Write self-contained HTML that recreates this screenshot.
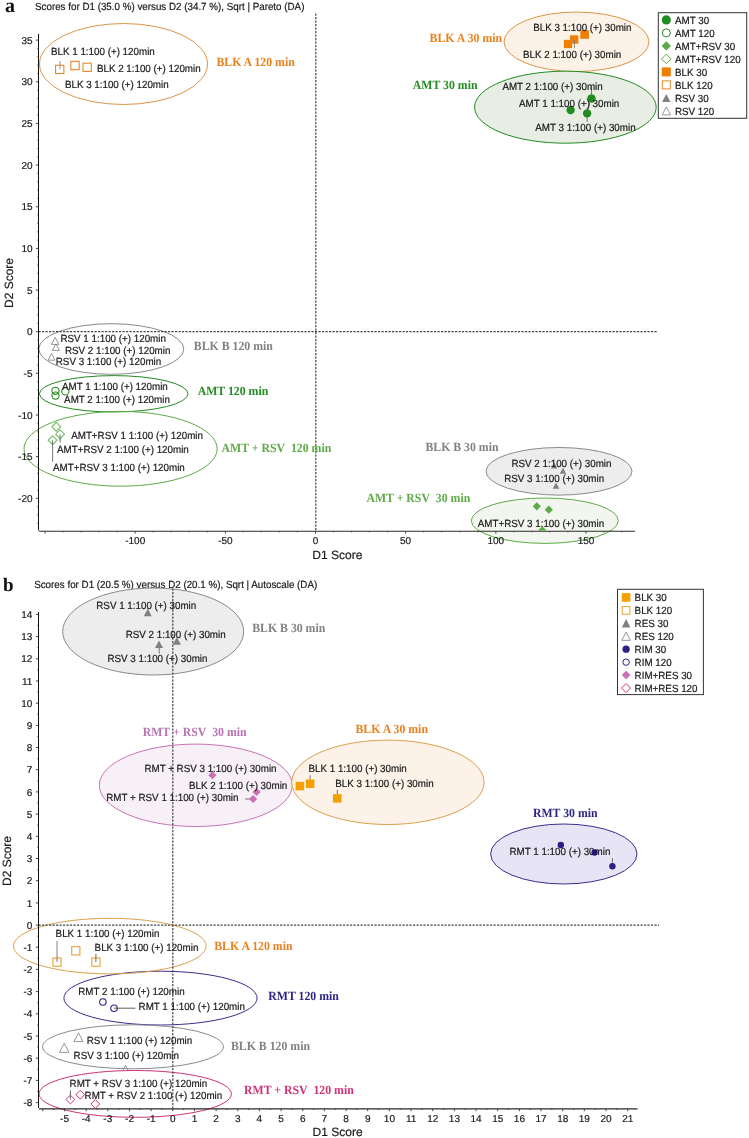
<!DOCTYPE html><html><head><meta charset="utf-8"><title>PCA score plots</title><style>html,body{margin:0;padding:0;background:#fff;} svg{display:block;text-rendering:geometricPrecision;will-change:transform;}</style></head><body>
<svg width="749" height="1138" viewBox="0 0 749 1138">
<rect width="749" height="1138" fill="#ffffff"/>
<text x="5.0" y="11.6" font-family='"Liberation Serif", serif' font-size="20" font-weight="bold" fill="#111" text-anchor="start" >a</text>
<text x="35.0" y="9.8" font-family='"Liberation Sans", sans-serif' font-size="10.4" font-weight="normal" fill="#1a1a1a" text-anchor="start" textLength="269.40" lengthAdjust="spacingAndGlyphs" stroke="#1a1a1a" stroke-width="0.2" >Scores for D1 (35.0 %) versus D2 (34.7 %), Sqrt | Pareto (DA)</text>
<ellipse cx="123.5" cy="64.0" rx="84.0" ry="40.5" fill="none" stroke="#dc9548" stroke-width="1.0"/>
<ellipse cx="576.5" cy="41.8" rx="72.5" ry="29.8" fill="#fcf2e7" stroke="#dc9548" stroke-width="1.0"/>
<ellipse cx="565.4" cy="107.2" rx="90.8" ry="36.0" fill="#e8eee3" stroke="#228b22" stroke-width="1.0"/>
<ellipse cx="111.3" cy="349.0" rx="72.5" ry="25.3" fill="none" stroke="#8a8a8a" stroke-width="1.0"/>
<ellipse cx="113.7" cy="393.8" rx="74.3" ry="18.2" fill="none" stroke="#228b22" stroke-width="1.0"/>
<ellipse cx="120.6" cy="448.8" rx="96.6" ry="37.4" fill="none" stroke="#5eaa48" stroke-width="1.0"/>
<ellipse cx="559.0" cy="471.3" rx="73.0" ry="23.8" fill="#ededed" stroke="#8a8a8a" stroke-width="1.0"/>
<ellipse cx="544.8" cy="520.7" rx="73.5" ry="22.7" fill="#f2f6ef" stroke="#5eaa48" stroke-width="1.0"/>
<line x1="315.8" y1="13.5" x2="315.8" y2="531.2" stroke="#444444" stroke-width="1.2" stroke-dasharray="2.2 1.3"/>
<line x1="38.5" y1="331.7" x2="658.0" y2="331.7" stroke="#444444" stroke-width="1.2" stroke-dasharray="2.2 1.3"/>
<line x1="38.5" y1="34.0" x2="38.5" y2="530.4" stroke="#111" stroke-width="1.0" />
<line x1="39.0" y1="531.2" x2="635.0" y2="531.2" stroke="#2a2a2a" stroke-width="1.15" />
<line x1="37.3" y1="523.3" x2="38.5" y2="523.3" stroke="#333333" stroke-width="0.8" />
<line x1="37.3" y1="515.0" x2="38.5" y2="515.0" stroke="#333333" stroke-width="0.8" />
<line x1="37.3" y1="506.6" x2="38.5" y2="506.6" stroke="#333333" stroke-width="0.8" />
<line x1="35.9" y1="498.3" x2="38.5" y2="498.3" stroke="#333333" stroke-width="0.9" />
<text x="32.5" y="501.9" font-family='"Liberation Sans", sans-serif' font-size="10" font-weight="normal" fill="#1a1a1a" text-anchor="end" stroke="#1a1a1a" stroke-width="0.2" >-20</text>
<line x1="37.3" y1="490.0" x2="38.5" y2="490.0" stroke="#333333" stroke-width="0.8" />
<line x1="37.3" y1="481.6" x2="38.5" y2="481.6" stroke="#333333" stroke-width="0.8" />
<line x1="37.3" y1="473.3" x2="38.5" y2="473.3" stroke="#333333" stroke-width="0.8" />
<line x1="37.3" y1="465.0" x2="38.5" y2="465.0" stroke="#333333" stroke-width="0.8" />
<line x1="35.9" y1="456.6" x2="38.5" y2="456.6" stroke="#333333" stroke-width="0.9" />
<text x="32.5" y="460.2" font-family='"Liberation Sans", sans-serif' font-size="10" font-weight="normal" fill="#1a1a1a" text-anchor="end" stroke="#1a1a1a" stroke-width="0.2" >-15</text>
<line x1="37.3" y1="448.3" x2="38.5" y2="448.3" stroke="#333333" stroke-width="0.8" />
<line x1="37.3" y1="440.0" x2="38.5" y2="440.0" stroke="#333333" stroke-width="0.8" />
<line x1="37.3" y1="431.7" x2="38.5" y2="431.7" stroke="#333333" stroke-width="0.8" />
<line x1="37.3" y1="423.3" x2="38.5" y2="423.3" stroke="#333333" stroke-width="0.8" />
<line x1="35.9" y1="415.0" x2="38.5" y2="415.0" stroke="#333333" stroke-width="0.9" />
<text x="32.5" y="418.6" font-family='"Liberation Sans", sans-serif' font-size="10" font-weight="normal" fill="#1a1a1a" text-anchor="end" stroke="#1a1a1a" stroke-width="0.2" >-10</text>
<line x1="37.3" y1="406.7" x2="38.5" y2="406.7" stroke="#333333" stroke-width="0.8" />
<line x1="37.3" y1="398.3" x2="38.5" y2="398.3" stroke="#333333" stroke-width="0.8" />
<line x1="37.3" y1="390.0" x2="38.5" y2="390.0" stroke="#333333" stroke-width="0.8" />
<line x1="37.3" y1="381.7" x2="38.5" y2="381.7" stroke="#333333" stroke-width="0.8" />
<line x1="35.9" y1="373.3" x2="38.5" y2="373.3" stroke="#333333" stroke-width="0.9" />
<text x="32.5" y="376.9" font-family='"Liberation Sans", sans-serif' font-size="10" font-weight="normal" fill="#1a1a1a" text-anchor="end" stroke="#1a1a1a" stroke-width="0.2" >-5</text>
<line x1="37.3" y1="365.0" x2="38.5" y2="365.0" stroke="#333333" stroke-width="0.8" />
<line x1="37.3" y1="356.7" x2="38.5" y2="356.7" stroke="#333333" stroke-width="0.8" />
<line x1="37.3" y1="348.4" x2="38.5" y2="348.4" stroke="#333333" stroke-width="0.8" />
<line x1="37.3" y1="340.0" x2="38.5" y2="340.0" stroke="#333333" stroke-width="0.8" />
<line x1="35.9" y1="331.7" x2="38.5" y2="331.7" stroke="#333333" stroke-width="0.9" />
<text x="32.5" y="335.3" font-family='"Liberation Sans", sans-serif' font-size="10" font-weight="normal" fill="#1a1a1a" text-anchor="end" stroke="#1a1a1a" stroke-width="0.2" >0</text>
<line x1="37.3" y1="323.4" x2="38.5" y2="323.4" stroke="#333333" stroke-width="0.8" />
<line x1="37.3" y1="315.0" x2="38.5" y2="315.0" stroke="#333333" stroke-width="0.8" />
<line x1="37.3" y1="306.7" x2="38.5" y2="306.7" stroke="#333333" stroke-width="0.8" />
<line x1="37.3" y1="298.4" x2="38.5" y2="298.4" stroke="#333333" stroke-width="0.8" />
<line x1="35.9" y1="290.1" x2="38.5" y2="290.1" stroke="#333333" stroke-width="0.9" />
<text x="32.5" y="293.7" font-family='"Liberation Sans", sans-serif' font-size="10" font-weight="normal" fill="#1a1a1a" text-anchor="end" stroke="#1a1a1a" stroke-width="0.2" >5</text>
<line x1="37.3" y1="281.7" x2="38.5" y2="281.7" stroke="#333333" stroke-width="0.8" />
<line x1="37.3" y1="273.4" x2="38.5" y2="273.4" stroke="#333333" stroke-width="0.8" />
<line x1="37.3" y1="265.1" x2="38.5" y2="265.1" stroke="#333333" stroke-width="0.8" />
<line x1="37.3" y1="256.7" x2="38.5" y2="256.7" stroke="#333333" stroke-width="0.8" />
<line x1="35.9" y1="248.4" x2="38.5" y2="248.4" stroke="#333333" stroke-width="0.9" />
<text x="32.5" y="252.0" font-family='"Liberation Sans", sans-serif' font-size="10" font-weight="normal" fill="#1a1a1a" text-anchor="end" stroke="#1a1a1a" stroke-width="0.2" >10</text>
<line x1="37.3" y1="240.1" x2="38.5" y2="240.1" stroke="#333333" stroke-width="0.8" />
<line x1="37.3" y1="231.7" x2="38.5" y2="231.7" stroke="#333333" stroke-width="0.8" />
<line x1="37.3" y1="223.4" x2="38.5" y2="223.4" stroke="#333333" stroke-width="0.8" />
<line x1="37.3" y1="215.1" x2="38.5" y2="215.1" stroke="#333333" stroke-width="0.8" />
<line x1="35.9" y1="206.8" x2="38.5" y2="206.8" stroke="#333333" stroke-width="0.9" />
<text x="32.5" y="210.3" font-family='"Liberation Sans", sans-serif' font-size="10" font-weight="normal" fill="#1a1a1a" text-anchor="end" stroke="#1a1a1a" stroke-width="0.2" >15</text>
<line x1="37.3" y1="198.4" x2="38.5" y2="198.4" stroke="#333333" stroke-width="0.8" />
<line x1="37.3" y1="190.1" x2="38.5" y2="190.1" stroke="#333333" stroke-width="0.8" />
<line x1="37.3" y1="181.8" x2="38.5" y2="181.8" stroke="#333333" stroke-width="0.8" />
<line x1="37.3" y1="173.4" x2="38.5" y2="173.4" stroke="#333333" stroke-width="0.8" />
<line x1="35.9" y1="165.1" x2="38.5" y2="165.1" stroke="#333333" stroke-width="0.9" />
<text x="32.5" y="168.7" font-family='"Liberation Sans", sans-serif' font-size="10" font-weight="normal" fill="#1a1a1a" text-anchor="end" stroke="#1a1a1a" stroke-width="0.2" >20</text>
<line x1="37.3" y1="156.8" x2="38.5" y2="156.8" stroke="#333333" stroke-width="0.8" />
<line x1="37.3" y1="148.4" x2="38.5" y2="148.4" stroke="#333333" stroke-width="0.8" />
<line x1="37.3" y1="140.1" x2="38.5" y2="140.1" stroke="#333333" stroke-width="0.8" />
<line x1="37.3" y1="131.8" x2="38.5" y2="131.8" stroke="#333333" stroke-width="0.8" />
<line x1="35.9" y1="123.4" x2="38.5" y2="123.4" stroke="#333333" stroke-width="0.9" />
<text x="32.5" y="127.0" font-family='"Liberation Sans", sans-serif' font-size="10" font-weight="normal" fill="#1a1a1a" text-anchor="end" stroke="#1a1a1a" stroke-width="0.2" >25</text>
<line x1="37.3" y1="115.1" x2="38.5" y2="115.1" stroke="#333333" stroke-width="0.8" />
<line x1="37.3" y1="106.8" x2="38.5" y2="106.8" stroke="#333333" stroke-width="0.8" />
<line x1="37.3" y1="98.5" x2="38.5" y2="98.5" stroke="#333333" stroke-width="0.8" />
<line x1="37.3" y1="90.1" x2="38.5" y2="90.1" stroke="#333333" stroke-width="0.8" />
<line x1="35.9" y1="81.8" x2="38.5" y2="81.8" stroke="#333333" stroke-width="0.9" />
<text x="32.5" y="85.4" font-family='"Liberation Sans", sans-serif' font-size="10" font-weight="normal" fill="#1a1a1a" text-anchor="end" stroke="#1a1a1a" stroke-width="0.2" >30</text>
<line x1="37.3" y1="73.5" x2="38.5" y2="73.5" stroke="#333333" stroke-width="0.8" />
<line x1="37.3" y1="65.1" x2="38.5" y2="65.1" stroke="#333333" stroke-width="0.8" />
<line x1="37.3" y1="56.8" x2="38.5" y2="56.8" stroke="#333333" stroke-width="0.8" />
<line x1="37.3" y1="48.5" x2="38.5" y2="48.5" stroke="#333333" stroke-width="0.8" />
<line x1="35.9" y1="40.1" x2="38.5" y2="40.1" stroke="#333333" stroke-width="0.9" />
<text x="32.5" y="43.7" font-family='"Liberation Sans", sans-serif' font-size="10" font-weight="normal" fill="#1a1a1a" text-anchor="end" stroke="#1a1a1a" stroke-width="0.2" >35</text>
<line x1="45.1" y1="531.2" x2="45.1" y2="533.6" stroke="#333333" stroke-width="0.9" />
<line x1="63.1" y1="531.2" x2="63.1" y2="532.4" stroke="#333333" stroke-width="0.8" />
<line x1="81.1" y1="531.2" x2="81.1" y2="532.4" stroke="#333333" stroke-width="0.8" />
<line x1="99.1" y1="531.2" x2="99.1" y2="532.4" stroke="#333333" stroke-width="0.8" />
<line x1="117.2" y1="531.2" x2="117.2" y2="532.4" stroke="#333333" stroke-width="0.8" />
<line x1="135.2" y1="531.2" x2="135.2" y2="533.6" stroke="#333333" stroke-width="0.9" />
<text x="135.2" y="544.0" font-family='"Liberation Sans", sans-serif' font-size="10" font-weight="normal" fill="#1a1a1a" text-anchor="middle" stroke="#1a1a1a" stroke-width="0.2" >-100</text>
<line x1="153.2" y1="531.2" x2="153.2" y2="532.4" stroke="#333333" stroke-width="0.8" />
<line x1="171.3" y1="531.2" x2="171.3" y2="532.4" stroke="#333333" stroke-width="0.8" />
<line x1="189.3" y1="531.2" x2="189.3" y2="532.4" stroke="#333333" stroke-width="0.8" />
<line x1="207.3" y1="531.2" x2="207.3" y2="532.4" stroke="#333333" stroke-width="0.8" />
<line x1="225.4" y1="531.2" x2="225.4" y2="533.6" stroke="#333333" stroke-width="0.9" />
<text x="225.4" y="544.0" font-family='"Liberation Sans", sans-serif' font-size="10" font-weight="normal" fill="#1a1a1a" text-anchor="middle" stroke="#1a1a1a" stroke-width="0.2" >-50</text>
<line x1="243.4" y1="531.2" x2="243.4" y2="532.4" stroke="#333333" stroke-width="0.8" />
<line x1="261.4" y1="531.2" x2="261.4" y2="532.4" stroke="#333333" stroke-width="0.8" />
<line x1="279.4" y1="531.2" x2="279.4" y2="532.4" stroke="#333333" stroke-width="0.8" />
<line x1="297.5" y1="531.2" x2="297.5" y2="532.4" stroke="#333333" stroke-width="0.8" />
<line x1="315.5" y1="531.2" x2="315.5" y2="533.6" stroke="#333333" stroke-width="0.9" />
<text x="315.5" y="544.0" font-family='"Liberation Sans", sans-serif' font-size="10" font-weight="normal" fill="#1a1a1a" text-anchor="middle" stroke="#1a1a1a" stroke-width="0.2" >0</text>
<line x1="333.5" y1="531.2" x2="333.5" y2="532.4" stroke="#333333" stroke-width="0.8" />
<line x1="351.6" y1="531.2" x2="351.6" y2="532.4" stroke="#333333" stroke-width="0.8" />
<line x1="369.6" y1="531.2" x2="369.6" y2="532.4" stroke="#333333" stroke-width="0.8" />
<line x1="387.6" y1="531.2" x2="387.6" y2="532.4" stroke="#333333" stroke-width="0.8" />
<line x1="405.6" y1="531.2" x2="405.6" y2="533.6" stroke="#333333" stroke-width="0.9" />
<text x="405.6" y="544.0" font-family='"Liberation Sans", sans-serif' font-size="10" font-weight="normal" fill="#1a1a1a" text-anchor="middle" stroke="#1a1a1a" stroke-width="0.2" >50</text>
<line x1="423.7" y1="531.2" x2="423.7" y2="532.4" stroke="#333333" stroke-width="0.8" />
<line x1="441.7" y1="531.2" x2="441.7" y2="532.4" stroke="#333333" stroke-width="0.8" />
<line x1="459.7" y1="531.2" x2="459.7" y2="532.4" stroke="#333333" stroke-width="0.8" />
<line x1="477.8" y1="531.2" x2="477.8" y2="532.4" stroke="#333333" stroke-width="0.8" />
<line x1="495.8" y1="531.2" x2="495.8" y2="533.6" stroke="#333333" stroke-width="0.9" />
<text x="495.8" y="544.0" font-family='"Liberation Sans", sans-serif' font-size="10" font-weight="normal" fill="#1a1a1a" text-anchor="middle" stroke="#1a1a1a" stroke-width="0.2" >100</text>
<line x1="513.8" y1="531.2" x2="513.8" y2="532.4" stroke="#333333" stroke-width="0.8" />
<line x1="531.9" y1="531.2" x2="531.9" y2="532.4" stroke="#333333" stroke-width="0.8" />
<line x1="549.9" y1="531.2" x2="549.9" y2="532.4" stroke="#333333" stroke-width="0.8" />
<line x1="567.9" y1="531.2" x2="567.9" y2="532.4" stroke="#333333" stroke-width="0.8" />
<line x1="586.0" y1="531.2" x2="586.0" y2="533.6" stroke="#333333" stroke-width="0.9" />
<text x="586.0" y="544.0" font-family='"Liberation Sans", sans-serif' font-size="10" font-weight="normal" fill="#1a1a1a" text-anchor="middle" stroke="#1a1a1a" stroke-width="0.2" >150</text>
<line x1="604.0" y1="531.2" x2="604.0" y2="532.4" stroke="#333333" stroke-width="0.8" />
<line x1="622.0" y1="531.2" x2="622.0" y2="532.4" stroke="#333333" stroke-width="0.8" />
<text x="337.3" y="559.4" font-family='"Liberation Sans", sans-serif' font-size="12" font-weight="normal" fill="#1a1a1a" text-anchor="middle" stroke="#1a1a1a" stroke-width="0.2" >D1 Score</text>
<text x="13.4" y="283.0" font-family='"Liberation Sans", sans-serif' font-size="12" font-weight="normal" fill="#1a1a1a" text-anchor="middle" stroke="#1a1a1a" stroke-width="0.2" transform="rotate(-90 13.4 283.0)">D2 Score</text>
<rect x="55.55" y="65.25" width="8.30" height="8.30" fill="none" stroke="#e4892a" stroke-width="1.1"/>
<rect x="70.85" y="61.35" width="8.30" height="8.30" fill="none" stroke="#e4892a" stroke-width="1.1"/>
<rect x="83.05" y="63.15" width="8.30" height="8.30" fill="none" stroke="#e4892a" stroke-width="1.1"/>
<line x1="60.0" y1="61.0" x2="60.0" y2="69.4" stroke="#888" stroke-width="0.9" />
<rect x="563.85" y="39.85" width="8.30" height="8.30" fill="#ef7d00"/>
<rect x="570.05" y="35.35" width="8.30" height="8.30" fill="#ef7d00"/>
<rect x="580.30" y="30.20" width="8.60" height="8.60" fill="#ef7d00"/>
<line x1="574.5" y1="40.0" x2="574.5" y2="48.2" stroke="#777" stroke-width="0.8" />
<line x1="591.5" y1="94.5" x2="591.5" y2="86.5" stroke="#555" stroke-width="0.8" />
<line x1="587.1" y1="117.0" x2="587.1" y2="122.0" stroke="#555" stroke-width="0.8" />
<line x1="587.6" y1="109.5" x2="589.6" y2="103.0" stroke="#555" stroke-width="0.8" />
<circle cx="570.60" cy="110.10" r="4.20" fill="#228b22"/>
<circle cx="591.50" cy="98.50" r="4.20" fill="#228b22"/>
<circle cx="587.10" cy="113.40" r="4.20" fill="#228b22"/>
<polygon points="55.20,337.40 51.50,344.40 58.90,344.40" fill="none" stroke="#8a8a8a" stroke-width="0.9" stroke-linejoin="miter"/>
<polygon points="55.90,344.00 52.40,350.40 59.40,350.40" fill="none" stroke="#8a8a8a" stroke-width="0.9" stroke-linejoin="miter"/>
<polygon points="51.60,353.20 48.20,360.20 55.00,360.20" fill="none" stroke="#8a8a8a" stroke-width="0.9" stroke-linejoin="miter"/>
<circle cx="55.50" cy="390.80" r="3.60" fill="none" stroke="#228b22" stroke-width="1.1"/>
<circle cx="55.50" cy="395.60" r="3.60" fill="none" stroke="#228b22" stroke-width="1.1"/>
<circle cx="65.30" cy="391.40" r="3.60" fill="none" stroke="#228b22" stroke-width="1.1"/>
<polygon points="56.30,422.40 60.70,426.80 56.30,431.20 51.90,426.80" fill="none" stroke="#78bd62" stroke-width="1.1"/>
<polygon points="60.10,429.80 64.50,434.20 60.10,438.60 55.70,434.20" fill="none" stroke="#78bd62" stroke-width="1.1"/>
<polygon points="52.60,435.80 57.00,440.20 52.60,444.60 48.20,440.20" fill="none" stroke="#78bd62" stroke-width="1.1"/>
<line x1="52.6" y1="440.2" x2="52.6" y2="461.7" stroke="#555" stroke-width="0.8" />
<line x1="60.1" y1="434.2" x2="60.1" y2="442.4" stroke="#555" stroke-width="0.8" />
<polygon points="554.10,462.20 550.90,468.60 557.30,468.60" fill="#808080"/>
<polygon points="562.90,467.80 559.80,473.80 566.00,473.80" fill="#808080"/>
<polygon points="556.00,482.60 552.70,488.70 559.30,488.70" fill="#808080"/>
<polygon points="536.80,502.20 540.90,506.30 536.80,510.40 532.70,506.30" fill="#5eaa48"/>
<polygon points="548.80,505.60 552.90,509.70 548.80,513.80 544.70,509.70" fill="#5eaa48"/>
<clipPath id="ca"><rect x="0" y="0" width="749" height="530.6"/></clipPath>
<g clip-path="url(#ca)"><polygon points="542.3,526.2 546.4,530.3 542.3,534.4 538.2,530.3" fill="#5eaa48"/></g>
<text x="51.0" y="54.5" font-family='"Liberation Sans", sans-serif' font-size="10.4" font-weight="normal" fill="#1a1a1a" text-anchor="start" textLength="103.77" lengthAdjust="spacingAndGlyphs" stroke="#1a1a1a" stroke-width="0.2" >BLK 1 1:100 (+) 120min</text>
<text x="96.9" y="71.7" font-family='"Liberation Sans", sans-serif' font-size="10.4" font-weight="normal" fill="#1a1a1a" text-anchor="start" textLength="103.77" lengthAdjust="spacingAndGlyphs" stroke="#1a1a1a" stroke-width="0.2" >BLK 2 1:100 (+) 120min</text>
<text x="64.9" y="87.7" font-family='"Liberation Sans", sans-serif' font-size="10.4" font-weight="normal" fill="#1a1a1a" text-anchor="start" textLength="103.77" lengthAdjust="spacingAndGlyphs" stroke="#1a1a1a" stroke-width="0.2" >BLK 3 1:100 (+) 120min</text>
<text x="533.2" y="30.6" font-family='"Liberation Sans", sans-serif' font-size="10.4" font-weight="normal" fill="#1a1a1a" text-anchor="start" textLength="98.32" lengthAdjust="spacingAndGlyphs" stroke="#1a1a1a" stroke-width="0.2" >BLK 3 1:100 (+) 30min</text>
<text x="523.0" y="57.8" font-family='"Liberation Sans", sans-serif' font-size="10.4" font-weight="normal" fill="#1a1a1a" text-anchor="start" textLength="98.32" lengthAdjust="spacingAndGlyphs" stroke="#1a1a1a" stroke-width="0.2" >BLK 2 1:100 (+) 30min</text>
<text x="502.4" y="89.6" font-family='"Liberation Sans", sans-serif' font-size="10.4" font-weight="normal" fill="#1a1a1a" text-anchor="start" textLength="100.31" lengthAdjust="spacingAndGlyphs" stroke="#1a1a1a" stroke-width="0.2" >AMT 2 1:100 (+) 30min</text>
<text x="519.0" y="106.5" font-family='"Liberation Sans", sans-serif' font-size="10.4" font-weight="normal" fill="#1a1a1a" text-anchor="start" textLength="100.31" lengthAdjust="spacingAndGlyphs" stroke="#1a1a1a" stroke-width="0.2" >AMT 1 1:100 (+) 30min</text>
<text x="535.3" y="131.0" font-family='"Liberation Sans", sans-serif' font-size="10.4" font-weight="normal" fill="#1a1a1a" text-anchor="start" textLength="100.31" lengthAdjust="spacingAndGlyphs" stroke="#1a1a1a" stroke-width="0.2" >AMT 3 1:100 (+) 30min</text>
<text x="60.5" y="342.4" font-family='"Liberation Sans", sans-serif' font-size="10.4" font-weight="normal" fill="#1a1a1a" text-anchor="start" textLength="105.40" lengthAdjust="spacingAndGlyphs" stroke="#1a1a1a" stroke-width="0.2" >RSV 1 1:100 (+) 120min</text>
<text x="65.0" y="353.6" font-family='"Liberation Sans", sans-serif' font-size="10.4" font-weight="normal" fill="#1a1a1a" text-anchor="start" textLength="105.40" lengthAdjust="spacingAndGlyphs" stroke="#1a1a1a" stroke-width="0.2" >RSV 2 1:100 (+) 120min</text>
<text x="55.8" y="364.8" font-family='"Liberation Sans", sans-serif' font-size="10.4" font-weight="normal" fill="#1a1a1a" text-anchor="start" textLength="105.40" lengthAdjust="spacingAndGlyphs" stroke="#1a1a1a" stroke-width="0.2" >RSV 3 1:100 (+) 120min</text>
<text x="62.0" y="390.0" font-family='"Liberation Sans", sans-serif' font-size="10.4" font-weight="normal" fill="#1a1a1a" text-anchor="start" textLength="105.76" lengthAdjust="spacingAndGlyphs" stroke="#1a1a1a" stroke-width="0.2" >AMT 1 1:100 (+) 120min</text>
<text x="64.1" y="403.4" font-family='"Liberation Sans", sans-serif' font-size="10.4" font-weight="normal" fill="#1a1a1a" text-anchor="start" textLength="105.76" lengthAdjust="spacingAndGlyphs" stroke="#1a1a1a" stroke-width="0.2" >AMT 2 1:100 (+) 120min</text>
<text x="71.2" y="439.1" font-family='"Liberation Sans", sans-serif' font-size="10.4" font-weight="normal" fill="#1a1a1a" text-anchor="start" textLength="131.81" lengthAdjust="spacingAndGlyphs" stroke="#1a1a1a" stroke-width="0.2" >AMT+RSV 1 1:100 (+) 120min</text>
<text x="57.0" y="452.6" font-family='"Liberation Sans", sans-serif' font-size="10.4" font-weight="normal" fill="#1a1a1a" text-anchor="start" textLength="131.81" lengthAdjust="spacingAndGlyphs" stroke="#1a1a1a" stroke-width="0.2" >AMT+RSV 2 1:100 (+) 120min</text>
<text x="53.0" y="470.9" font-family='"Liberation Sans", sans-serif' font-size="10.4" font-weight="normal" fill="#1a1a1a" text-anchor="start" textLength="131.81" lengthAdjust="spacingAndGlyphs" stroke="#1a1a1a" stroke-width="0.2" >AMT+RSV 3 1:100 (+) 120min</text>
<text x="511.5" y="467.0" font-family='"Liberation Sans", sans-serif' font-size="10.4" font-weight="normal" fill="#1a1a1a" text-anchor="start" textLength="99.95" lengthAdjust="spacingAndGlyphs" stroke="#1a1a1a" stroke-width="0.2" >RSV 2 1:100 (+) 30min</text>
<text x="504.2" y="482.0" font-family='"Liberation Sans", sans-serif' font-size="10.4" font-weight="normal" fill="#1a1a1a" text-anchor="start" textLength="99.95" lengthAdjust="spacingAndGlyphs" stroke="#1a1a1a" stroke-width="0.2" >RSV 3 1:100 (+) 30min</text>
<text x="477.8" y="527.0" font-family='"Liberation Sans", sans-serif' font-size="10.4" font-weight="normal" fill="#1a1a1a" text-anchor="start" textLength="126.36" lengthAdjust="spacingAndGlyphs" stroke="#1a1a1a" stroke-width="0.2" >AMT+RSV 3 1:100 (+) 30min</text>
<text x="216.4" y="65.9" font-family='"Liberation Serif", serif' font-size="12.5" font-weight="bold" fill="#e8821e" text-anchor="start" textLength="78.36" lengthAdjust="spacingAndGlyphs" >BLK A 120 min</text>
<text x="429.6" y="42.2" font-family='"Liberation Serif", serif' font-size="12.5" font-weight="bold" fill="#e8821e" text-anchor="start" textLength="72.46" lengthAdjust="spacingAndGlyphs" >BLK A 30 min</text>
<text x="412.8" y="89.0" font-family='"Liberation Serif", serif' font-size="12.5" font-weight="bold" fill="#228b22" text-anchor="start" textLength="64.69" lengthAdjust="spacingAndGlyphs" >AMT 30 min</text>
<text x="193.8" y="350.4" font-family='"Liberation Serif", serif' font-size="12.5" font-weight="bold" fill="#828282" text-anchor="start" textLength="79.01" lengthAdjust="spacingAndGlyphs" >BLK B 120 min</text>
<text x="197.7" y="395.2" font-family='"Liberation Serif", serif' font-size="12.5" font-weight="bold" fill="#228b22" text-anchor="start" textLength="70.59" lengthAdjust="spacingAndGlyphs" >AMT 120 min</text>
<text x="221.5" y="451.9" font-family='"Liberation Serif", serif' font-size="12.5" font-weight="bold" fill="#5eaa48" text-anchor="start" textLength="109.77" lengthAdjust="spacingAndGlyphs" >AMT + RSV  120 min</text>
<text x="425.4" y="450.9" font-family='"Liberation Serif", serif' font-size="12.5" font-weight="bold" fill="#828282" text-anchor="start" textLength="73.11" lengthAdjust="spacingAndGlyphs" >BLK B 30 min</text>
<text x="366.4" y="502.4" font-family='"Liberation Serif", serif' font-size="12.5" font-weight="bold" fill="#5eaa48" text-anchor="start" textLength="103.87" lengthAdjust="spacingAndGlyphs" >AMT + RSV  30 min</text>
<rect x="658.3" y="12.7" width="88.4" height="105.6" fill="#fff" stroke="#333" stroke-width="1"/>
<circle cx="666.30" cy="19.90" r="4.60" fill="#228b22"/>
<text x="675.0" y="23.5" font-family='"Liberation Sans", sans-serif' font-size="10.4" font-weight="normal" fill="#1a1a1a" text-anchor="start" textLength="34.13" lengthAdjust="spacingAndGlyphs" stroke="#1a1a1a" stroke-width="0.2" >AMT 30</text>
<circle cx="666.30" cy="32.90" r="4.00" fill="none" stroke="#228b22" stroke-width="1.0"/>
<text x="675.0" y="36.5" font-family='"Liberation Sans", sans-serif' font-size="10.4" font-weight="normal" fill="#1a1a1a" text-anchor="start" textLength="39.58" lengthAdjust="spacingAndGlyphs" stroke="#1a1a1a" stroke-width="0.2" >AMT 120</text>
<polygon points="666.30,41.20 671.00,45.90 666.30,50.60 661.60,45.90" fill="#5eaa48"/>
<text x="675.0" y="49.5" font-family='"Liberation Sans", sans-serif' font-size="10.4" font-weight="normal" fill="#1a1a1a" text-anchor="start" textLength="60.18" lengthAdjust="spacingAndGlyphs" stroke="#1a1a1a" stroke-width="0.2" >AMT+RSV 30</text>
<polygon points="666.30,54.20 671.00,58.90 666.30,63.60 661.60,58.90" fill="none" stroke="#5eaa48" stroke-width="1.0"/>
<text x="675.0" y="62.5" font-family='"Liberation Sans", sans-serif' font-size="10.4" font-weight="normal" fill="#1a1a1a" text-anchor="start" textLength="65.63" lengthAdjust="spacingAndGlyphs" stroke="#1a1a1a" stroke-width="0.2" >AMT+RSV 120</text>
<rect x="661.80" y="67.40" width="9.00" height="9.00" fill="#ef7d00"/>
<text x="675.0" y="75.5" font-family='"Liberation Sans", sans-serif' font-size="10.4" font-weight="normal" fill="#1a1a1a" text-anchor="start" textLength="32.15" lengthAdjust="spacingAndGlyphs" stroke="#1a1a1a" stroke-width="0.2" >BLK 30</text>
<rect x="662.30" y="80.90" width="8.00" height="8.00" fill="none" stroke="#e4892a" stroke-width="1.0"/>
<text x="675.0" y="88.5" font-family='"Liberation Sans", sans-serif' font-size="10.4" font-weight="normal" fill="#1a1a1a" text-anchor="start" textLength="37.60" lengthAdjust="spacingAndGlyphs" stroke="#1a1a1a" stroke-width="0.2" >BLK 120</text>
<polygon points="666.30,93.90 662.10,101.90 670.50,101.90" fill="#808080"/>
<text x="675.0" y="101.5" font-family='"Liberation Sans", sans-serif' font-size="10.4" font-weight="normal" fill="#1a1a1a" text-anchor="start" textLength="33.77" lengthAdjust="spacingAndGlyphs" stroke="#1a1a1a" stroke-width="0.2" >RSV 30</text>
<polygon points="666.30,106.90 662.10,114.90 670.50,114.90" fill="none" stroke="#8a8a8a" stroke-width="0.9" stroke-linejoin="miter"/>
<text x="675.0" y="114.5" font-family='"Liberation Sans", sans-serif' font-size="10.4" font-weight="normal" fill="#1a1a1a" text-anchor="start" textLength="39.22" lengthAdjust="spacingAndGlyphs" stroke="#1a1a1a" stroke-width="0.2" >RSV 120</text>
<text x="3.0" y="591.3" font-family='"Liberation Serif", serif' font-size="19" font-weight="bold" fill="#111" text-anchor="start" >b</text>
<text x="34.2" y="587.5" font-family='"Liberation Sans", sans-serif' font-size="10.4" font-weight="normal" fill="#1a1a1a" text-anchor="start" textLength="283.02" lengthAdjust="spacingAndGlyphs" stroke="#1a1a1a" stroke-width="0.2" >Scores for D1 (20.5 %) versus D2 (20.1 %), Sqrt | Autoscale (DA)</text>
<ellipse cx="153.2" cy="631.5" rx="90.5" ry="43.5" fill="#ededed" stroke="#8a8a8a" stroke-width="1.0"/>
<ellipse cx="195.8" cy="785.3" rx="96.5" ry="41.2" fill="#f7f1f7" stroke="#c873b8" stroke-width="1.0"/>
<ellipse cx="387.9" cy="782.3" rx="96.2" ry="42.2" fill="#fcf2e7" stroke="#dc9f4c" stroke-width="1.0"/>
<ellipse cx="563.8" cy="854.0" rx="73.2" ry="30.0" fill="#e7e5f5" stroke="#3a2d90" stroke-width="1.0"/>
<ellipse cx="160.5" cy="998.1" rx="96.6" ry="26.9" fill="none" stroke="#3a2d90" stroke-width="1.0"/>
<ellipse cx="109.8" cy="946.1" rx="96.3" ry="27.8" fill="none" stroke="#dc9f4c" stroke-width="1.0"/>
<ellipse cx="133.0" cy="1046.8" rx="90.4" ry="22.0" fill="none" stroke="#8a8a8a" stroke-width="1.0"/>
<ellipse cx="135.2" cy="1093.9" rx="96.2" ry="23.4" fill="none" stroke="#cf3277" stroke-width="1.0"/>
<line x1="172.8" y1="588.5" x2="172.8" y2="1108.8" stroke="#444444" stroke-width="1.2" stroke-dasharray="2.2 1.3"/>
<line x1="38.5" y1="925.1" x2="659.0" y2="925.1" stroke="#444444" stroke-width="1.2" stroke-dasharray="2.2 1.3"/>
<line x1="38.5" y1="612.0" x2="38.5" y2="1108.0" stroke="#111" stroke-width="1.0" />
<line x1="39.0" y1="1108.8" x2="637.5" y2="1108.8" stroke="#2a2a2a" stroke-width="1.15" />
<line x1="35.9" y1="1102.6" x2="38.5" y2="1102.6" stroke="#333333" stroke-width="0.9" />
<text x="32.3" y="1106.2" font-family='"Liberation Sans", sans-serif' font-size="10" font-weight="normal" fill="#1a1a1a" text-anchor="end" stroke="#1a1a1a" stroke-width="0.2" >-8</text>
<line x1="37.3" y1="1091.5" x2="38.5" y2="1091.5" stroke="#333333" stroke-width="0.8" />
<line x1="35.9" y1="1080.4" x2="38.5" y2="1080.4" stroke="#333333" stroke-width="0.9" />
<text x="32.3" y="1084.0" font-family='"Liberation Sans", sans-serif' font-size="10" font-weight="normal" fill="#1a1a1a" text-anchor="end" stroke="#1a1a1a" stroke-width="0.2" >-7</text>
<line x1="37.3" y1="1069.3" x2="38.5" y2="1069.3" stroke="#333333" stroke-width="0.8" />
<line x1="35.9" y1="1058.2" x2="38.5" y2="1058.2" stroke="#333333" stroke-width="0.9" />
<text x="32.3" y="1061.8" font-family='"Liberation Sans", sans-serif' font-size="10" font-weight="normal" fill="#1a1a1a" text-anchor="end" stroke="#1a1a1a" stroke-width="0.2" >-6</text>
<line x1="37.3" y1="1047.1" x2="38.5" y2="1047.1" stroke="#333333" stroke-width="0.8" />
<line x1="35.9" y1="1036.0" x2="38.5" y2="1036.0" stroke="#333333" stroke-width="0.9" />
<text x="32.3" y="1039.6" font-family='"Liberation Sans", sans-serif' font-size="10" font-weight="normal" fill="#1a1a1a" text-anchor="end" stroke="#1a1a1a" stroke-width="0.2" >-5</text>
<line x1="37.3" y1="1024.9" x2="38.5" y2="1024.9" stroke="#333333" stroke-width="0.8" />
<line x1="35.9" y1="1013.8" x2="38.5" y2="1013.8" stroke="#333333" stroke-width="0.9" />
<text x="32.3" y="1017.4" font-family='"Liberation Sans", sans-serif' font-size="10" font-weight="normal" fill="#1a1a1a" text-anchor="end" stroke="#1a1a1a" stroke-width="0.2" >-4</text>
<line x1="37.3" y1="1002.7" x2="38.5" y2="1002.7" stroke="#333333" stroke-width="0.8" />
<line x1="35.9" y1="991.6" x2="38.5" y2="991.6" stroke="#333333" stroke-width="0.9" />
<text x="32.3" y="995.2" font-family='"Liberation Sans", sans-serif' font-size="10" font-weight="normal" fill="#1a1a1a" text-anchor="end" stroke="#1a1a1a" stroke-width="0.2" >-3</text>
<line x1="37.3" y1="980.5" x2="38.5" y2="980.5" stroke="#333333" stroke-width="0.8" />
<line x1="35.9" y1="969.4" x2="38.5" y2="969.4" stroke="#333333" stroke-width="0.9" />
<text x="32.3" y="973.0" font-family='"Liberation Sans", sans-serif' font-size="10" font-weight="normal" fill="#1a1a1a" text-anchor="end" stroke="#1a1a1a" stroke-width="0.2" >-2</text>
<line x1="37.3" y1="958.3" x2="38.5" y2="958.3" stroke="#333333" stroke-width="0.8" />
<line x1="35.9" y1="947.2" x2="38.5" y2="947.2" stroke="#333333" stroke-width="0.9" />
<text x="32.3" y="950.9" font-family='"Liberation Sans", sans-serif' font-size="10" font-weight="normal" fill="#1a1a1a" text-anchor="end" stroke="#1a1a1a" stroke-width="0.2" >-1</text>
<line x1="37.3" y1="936.2" x2="38.5" y2="936.2" stroke="#333333" stroke-width="0.8" />
<line x1="35.9" y1="925.1" x2="38.5" y2="925.1" stroke="#333333" stroke-width="0.9" />
<text x="32.3" y="928.7" font-family='"Liberation Sans", sans-serif' font-size="10" font-weight="normal" fill="#1a1a1a" text-anchor="end" stroke="#1a1a1a" stroke-width="0.2" >0</text>
<line x1="37.3" y1="914.0" x2="38.5" y2="914.0" stroke="#333333" stroke-width="0.8" />
<line x1="35.9" y1="902.9" x2="38.5" y2="902.9" stroke="#333333" stroke-width="0.9" />
<text x="32.3" y="906.5" font-family='"Liberation Sans", sans-serif' font-size="10" font-weight="normal" fill="#1a1a1a" text-anchor="end" stroke="#1a1a1a" stroke-width="0.2" >1</text>
<line x1="37.3" y1="891.8" x2="38.5" y2="891.8" stroke="#333333" stroke-width="0.8" />
<line x1="35.9" y1="880.7" x2="38.5" y2="880.7" stroke="#333333" stroke-width="0.9" />
<text x="32.3" y="884.3" font-family='"Liberation Sans", sans-serif' font-size="10" font-weight="normal" fill="#1a1a1a" text-anchor="end" stroke="#1a1a1a" stroke-width="0.2" >2</text>
<line x1="37.3" y1="869.6" x2="38.5" y2="869.6" stroke="#333333" stroke-width="0.8" />
<line x1="35.9" y1="858.5" x2="38.5" y2="858.5" stroke="#333333" stroke-width="0.9" />
<text x="32.3" y="862.1" font-family='"Liberation Sans", sans-serif' font-size="10" font-weight="normal" fill="#1a1a1a" text-anchor="end" stroke="#1a1a1a" stroke-width="0.2" >3</text>
<line x1="37.3" y1="847.4" x2="38.5" y2="847.4" stroke="#333333" stroke-width="0.8" />
<line x1="35.9" y1="836.3" x2="38.5" y2="836.3" stroke="#333333" stroke-width="0.9" />
<text x="32.3" y="839.9" font-family='"Liberation Sans", sans-serif' font-size="10" font-weight="normal" fill="#1a1a1a" text-anchor="end" stroke="#1a1a1a" stroke-width="0.2" >4</text>
<line x1="37.3" y1="825.2" x2="38.5" y2="825.2" stroke="#333333" stroke-width="0.8" />
<line x1="35.9" y1="814.1" x2="38.5" y2="814.1" stroke="#333333" stroke-width="0.9" />
<text x="32.3" y="817.7" font-family='"Liberation Sans", sans-serif' font-size="10" font-weight="normal" fill="#1a1a1a" text-anchor="end" stroke="#1a1a1a" stroke-width="0.2" >5</text>
<line x1="37.3" y1="803.0" x2="38.5" y2="803.0" stroke="#333333" stroke-width="0.8" />
<line x1="35.9" y1="791.9" x2="38.5" y2="791.9" stroke="#333333" stroke-width="0.9" />
<text x="32.3" y="795.5" font-family='"Liberation Sans", sans-serif' font-size="10" font-weight="normal" fill="#1a1a1a" text-anchor="end" stroke="#1a1a1a" stroke-width="0.2" >6</text>
<line x1="37.3" y1="780.8" x2="38.5" y2="780.8" stroke="#333333" stroke-width="0.8" />
<line x1="35.9" y1="769.7" x2="38.5" y2="769.7" stroke="#333333" stroke-width="0.9" />
<text x="32.3" y="773.3" font-family='"Liberation Sans", sans-serif' font-size="10" font-weight="normal" fill="#1a1a1a" text-anchor="end" stroke="#1a1a1a" stroke-width="0.2" >7</text>
<line x1="37.3" y1="758.6" x2="38.5" y2="758.6" stroke="#333333" stroke-width="0.8" />
<line x1="35.9" y1="747.5" x2="38.5" y2="747.5" stroke="#333333" stroke-width="0.9" />
<text x="32.3" y="751.1" font-family='"Liberation Sans", sans-serif' font-size="10" font-weight="normal" fill="#1a1a1a" text-anchor="end" stroke="#1a1a1a" stroke-width="0.2" >8</text>
<line x1="37.3" y1="736.4" x2="38.5" y2="736.4" stroke="#333333" stroke-width="0.8" />
<line x1="35.9" y1="725.4" x2="38.5" y2="725.4" stroke="#333333" stroke-width="0.9" />
<text x="32.3" y="729.0" font-family='"Liberation Sans", sans-serif' font-size="10" font-weight="normal" fill="#1a1a1a" text-anchor="end" stroke="#1a1a1a" stroke-width="0.2" >9</text>
<line x1="37.3" y1="714.3" x2="38.5" y2="714.3" stroke="#333333" stroke-width="0.8" />
<line x1="35.9" y1="703.2" x2="38.5" y2="703.2" stroke="#333333" stroke-width="0.9" />
<text x="32.3" y="706.8" font-family='"Liberation Sans", sans-serif' font-size="10" font-weight="normal" fill="#1a1a1a" text-anchor="end" stroke="#1a1a1a" stroke-width="0.2" >10</text>
<line x1="37.3" y1="692.1" x2="38.5" y2="692.1" stroke="#333333" stroke-width="0.8" />
<line x1="35.9" y1="681.0" x2="38.5" y2="681.0" stroke="#333333" stroke-width="0.9" />
<text x="32.3" y="684.6" font-family='"Liberation Sans", sans-serif' font-size="10" font-weight="normal" fill="#1a1a1a" text-anchor="end" stroke="#1a1a1a" stroke-width="0.2" >11</text>
<line x1="37.3" y1="669.9" x2="38.5" y2="669.9" stroke="#333333" stroke-width="0.8" />
<line x1="35.9" y1="658.8" x2="38.5" y2="658.8" stroke="#333333" stroke-width="0.9" />
<text x="32.3" y="662.4" font-family='"Liberation Sans", sans-serif' font-size="10" font-weight="normal" fill="#1a1a1a" text-anchor="end" stroke="#1a1a1a" stroke-width="0.2" >12</text>
<line x1="37.3" y1="647.7" x2="38.5" y2="647.7" stroke="#333333" stroke-width="0.8" />
<line x1="35.9" y1="636.6" x2="38.5" y2="636.6" stroke="#333333" stroke-width="0.9" />
<text x="32.3" y="640.2" font-family='"Liberation Sans", sans-serif' font-size="10" font-weight="normal" fill="#1a1a1a" text-anchor="end" stroke="#1a1a1a" stroke-width="0.2" >13</text>
<line x1="37.3" y1="625.5" x2="38.5" y2="625.5" stroke="#333333" stroke-width="0.8" />
<line x1="35.9" y1="614.4" x2="38.5" y2="614.4" stroke="#333333" stroke-width="0.9" />
<text x="32.3" y="618.0" font-family='"Liberation Sans", sans-serif' font-size="10" font-weight="normal" fill="#1a1a1a" text-anchor="end" stroke="#1a1a1a" stroke-width="0.2" >14</text>
<line x1="42.8" y1="1108.8" x2="42.8" y2="1111.2" stroke="#333333" stroke-width="0.9" />
<line x1="53.7" y1="1108.8" x2="53.7" y2="1110.0" stroke="#333333" stroke-width="0.8" />
<line x1="64.5" y1="1108.8" x2="64.5" y2="1111.2" stroke="#333333" stroke-width="0.9" />
<text x="64.5" y="1121.6" font-family='"Liberation Sans", sans-serif' font-size="10" font-weight="normal" fill="#1a1a1a" text-anchor="middle" stroke="#1a1a1a" stroke-width="0.2" >-5</text>
<line x1="75.3" y1="1108.8" x2="75.3" y2="1110.0" stroke="#333333" stroke-width="0.8" />
<line x1="86.2" y1="1108.8" x2="86.2" y2="1111.2" stroke="#333333" stroke-width="0.9" />
<text x="86.2" y="1121.6" font-family='"Liberation Sans", sans-serif' font-size="10" font-weight="normal" fill="#1a1a1a" text-anchor="middle" stroke="#1a1a1a" stroke-width="0.2" >-4</text>
<line x1="97.0" y1="1108.8" x2="97.0" y2="1110.0" stroke="#333333" stroke-width="0.8" />
<line x1="107.8" y1="1108.8" x2="107.8" y2="1111.2" stroke="#333333" stroke-width="0.9" />
<text x="107.8" y="1121.6" font-family='"Liberation Sans", sans-serif' font-size="10" font-weight="normal" fill="#1a1a1a" text-anchor="middle" stroke="#1a1a1a" stroke-width="0.2" >-3</text>
<line x1="118.7" y1="1108.8" x2="118.7" y2="1110.0" stroke="#333333" stroke-width="0.8" />
<line x1="129.5" y1="1108.8" x2="129.5" y2="1111.2" stroke="#333333" stroke-width="0.9" />
<text x="129.5" y="1121.6" font-family='"Liberation Sans", sans-serif' font-size="10" font-weight="normal" fill="#1a1a1a" text-anchor="middle" stroke="#1a1a1a" stroke-width="0.2" >-2</text>
<line x1="140.3" y1="1108.8" x2="140.3" y2="1110.0" stroke="#333333" stroke-width="0.8" />
<line x1="151.1" y1="1108.8" x2="151.1" y2="1111.2" stroke="#333333" stroke-width="0.9" />
<text x="151.1" y="1121.6" font-family='"Liberation Sans", sans-serif' font-size="10" font-weight="normal" fill="#1a1a1a" text-anchor="middle" stroke="#1a1a1a" stroke-width="0.2" >-1</text>
<line x1="162.0" y1="1108.8" x2="162.0" y2="1110.0" stroke="#333333" stroke-width="0.8" />
<line x1="172.8" y1="1108.8" x2="172.8" y2="1111.2" stroke="#333333" stroke-width="0.9" />
<text x="172.8" y="1121.6" font-family='"Liberation Sans", sans-serif' font-size="10" font-weight="normal" fill="#1a1a1a" text-anchor="middle" stroke="#1a1a1a" stroke-width="0.2" >0</text>
<line x1="183.6" y1="1108.8" x2="183.6" y2="1110.0" stroke="#333333" stroke-width="0.8" />
<line x1="194.5" y1="1108.8" x2="194.5" y2="1111.2" stroke="#333333" stroke-width="0.9" />
<text x="194.5" y="1121.6" font-family='"Liberation Sans", sans-serif' font-size="10" font-weight="normal" fill="#1a1a1a" text-anchor="middle" stroke="#1a1a1a" stroke-width="0.2" >1</text>
<line x1="205.3" y1="1108.8" x2="205.3" y2="1110.0" stroke="#333333" stroke-width="0.8" />
<line x1="216.1" y1="1108.8" x2="216.1" y2="1111.2" stroke="#333333" stroke-width="0.9" />
<text x="216.1" y="1121.6" font-family='"Liberation Sans", sans-serif' font-size="10" font-weight="normal" fill="#1a1a1a" text-anchor="middle" stroke="#1a1a1a" stroke-width="0.2" >2</text>
<line x1="227.0" y1="1108.8" x2="227.0" y2="1110.0" stroke="#333333" stroke-width="0.8" />
<line x1="237.8" y1="1108.8" x2="237.8" y2="1111.2" stroke="#333333" stroke-width="0.9" />
<text x="237.8" y="1121.6" font-family='"Liberation Sans", sans-serif' font-size="10" font-weight="normal" fill="#1a1a1a" text-anchor="middle" stroke="#1a1a1a" stroke-width="0.2" >3</text>
<line x1="248.6" y1="1108.8" x2="248.6" y2="1110.0" stroke="#333333" stroke-width="0.8" />
<line x1="259.4" y1="1108.8" x2="259.4" y2="1111.2" stroke="#333333" stroke-width="0.9" />
<text x="259.4" y="1121.6" font-family='"Liberation Sans", sans-serif' font-size="10" font-weight="normal" fill="#1a1a1a" text-anchor="middle" stroke="#1a1a1a" stroke-width="0.2" >4</text>
<line x1="270.3" y1="1108.8" x2="270.3" y2="1110.0" stroke="#333333" stroke-width="0.8" />
<line x1="281.1" y1="1108.8" x2="281.1" y2="1111.2" stroke="#333333" stroke-width="0.9" />
<text x="281.1" y="1121.6" font-family='"Liberation Sans", sans-serif' font-size="10" font-weight="normal" fill="#1a1a1a" text-anchor="middle" stroke="#1a1a1a" stroke-width="0.2" >5</text>
<line x1="291.9" y1="1108.8" x2="291.9" y2="1110.0" stroke="#333333" stroke-width="0.8" />
<line x1="302.8" y1="1108.8" x2="302.8" y2="1111.2" stroke="#333333" stroke-width="0.9" />
<text x="302.8" y="1121.6" font-family='"Liberation Sans", sans-serif' font-size="10" font-weight="normal" fill="#1a1a1a" text-anchor="middle" stroke="#1a1a1a" stroke-width="0.2" >6</text>
<line x1="313.6" y1="1108.8" x2="313.6" y2="1110.0" stroke="#333333" stroke-width="0.8" />
<line x1="324.4" y1="1108.8" x2="324.4" y2="1111.2" stroke="#333333" stroke-width="0.9" />
<text x="324.4" y="1121.6" font-family='"Liberation Sans", sans-serif' font-size="10" font-weight="normal" fill="#1a1a1a" text-anchor="middle" stroke="#1a1a1a" stroke-width="0.2" >7</text>
<line x1="335.2" y1="1108.8" x2="335.2" y2="1110.0" stroke="#333333" stroke-width="0.8" />
<line x1="346.1" y1="1108.8" x2="346.1" y2="1111.2" stroke="#333333" stroke-width="0.9" />
<text x="346.1" y="1121.6" font-family='"Liberation Sans", sans-serif' font-size="10" font-weight="normal" fill="#1a1a1a" text-anchor="middle" stroke="#1a1a1a" stroke-width="0.2" >8</text>
<line x1="356.9" y1="1108.8" x2="356.9" y2="1110.0" stroke="#333333" stroke-width="0.8" />
<line x1="367.7" y1="1108.8" x2="367.7" y2="1111.2" stroke="#333333" stroke-width="0.9" />
<text x="367.7" y="1121.6" font-family='"Liberation Sans", sans-serif' font-size="10" font-weight="normal" fill="#1a1a1a" text-anchor="middle" stroke="#1a1a1a" stroke-width="0.2" >9</text>
<line x1="378.6" y1="1108.8" x2="378.6" y2="1110.0" stroke="#333333" stroke-width="0.8" />
<line x1="389.4" y1="1108.8" x2="389.4" y2="1111.2" stroke="#333333" stroke-width="0.9" />
<text x="389.4" y="1121.6" font-family='"Liberation Sans", sans-serif' font-size="10" font-weight="normal" fill="#1a1a1a" text-anchor="middle" stroke="#1a1a1a" stroke-width="0.2" >10</text>
<line x1="400.2" y1="1108.8" x2="400.2" y2="1110.0" stroke="#333333" stroke-width="0.8" />
<line x1="411.1" y1="1108.8" x2="411.1" y2="1111.2" stroke="#333333" stroke-width="0.9" />
<text x="411.1" y="1121.6" font-family='"Liberation Sans", sans-serif' font-size="10" font-weight="normal" fill="#1a1a1a" text-anchor="middle" stroke="#1a1a1a" stroke-width="0.2" >11</text>
<line x1="421.9" y1="1108.8" x2="421.9" y2="1110.0" stroke="#333333" stroke-width="0.8" />
<line x1="432.7" y1="1108.8" x2="432.7" y2="1111.2" stroke="#333333" stroke-width="0.9" />
<text x="432.7" y="1121.6" font-family='"Liberation Sans", sans-serif' font-size="10" font-weight="normal" fill="#1a1a1a" text-anchor="middle" stroke="#1a1a1a" stroke-width="0.2" >12</text>
<line x1="443.6" y1="1108.8" x2="443.6" y2="1110.0" stroke="#333333" stroke-width="0.8" />
<line x1="454.4" y1="1108.8" x2="454.4" y2="1111.2" stroke="#333333" stroke-width="0.9" />
<text x="454.4" y="1121.6" font-family='"Liberation Sans", sans-serif' font-size="10" font-weight="normal" fill="#1a1a1a" text-anchor="middle" stroke="#1a1a1a" stroke-width="0.2" >13</text>
<line x1="465.2" y1="1108.8" x2="465.2" y2="1110.0" stroke="#333333" stroke-width="0.8" />
<line x1="476.0" y1="1108.8" x2="476.0" y2="1111.2" stroke="#333333" stroke-width="0.9" />
<text x="476.0" y="1121.6" font-family='"Liberation Sans", sans-serif' font-size="10" font-weight="normal" fill="#1a1a1a" text-anchor="middle" stroke="#1a1a1a" stroke-width="0.2" >14</text>
<line x1="486.9" y1="1108.8" x2="486.9" y2="1110.0" stroke="#333333" stroke-width="0.8" />
<line x1="497.7" y1="1108.8" x2="497.7" y2="1111.2" stroke="#333333" stroke-width="0.9" />
<text x="497.7" y="1121.6" font-family='"Liberation Sans", sans-serif' font-size="10" font-weight="normal" fill="#1a1a1a" text-anchor="middle" stroke="#1a1a1a" stroke-width="0.2" >15</text>
<line x1="508.5" y1="1108.8" x2="508.5" y2="1110.0" stroke="#333333" stroke-width="0.8" />
<line x1="519.4" y1="1108.8" x2="519.4" y2="1111.2" stroke="#333333" stroke-width="0.9" />
<text x="519.4" y="1121.6" font-family='"Liberation Sans", sans-serif' font-size="10" font-weight="normal" fill="#1a1a1a" text-anchor="middle" stroke="#1a1a1a" stroke-width="0.2" >16</text>
<line x1="530.2" y1="1108.8" x2="530.2" y2="1110.0" stroke="#333333" stroke-width="0.8" />
<line x1="541.0" y1="1108.8" x2="541.0" y2="1111.2" stroke="#333333" stroke-width="0.9" />
<text x="541.0" y="1121.6" font-family='"Liberation Sans", sans-serif' font-size="10" font-weight="normal" fill="#1a1a1a" text-anchor="middle" stroke="#1a1a1a" stroke-width="0.2" >17</text>
<line x1="551.9" y1="1108.8" x2="551.9" y2="1110.0" stroke="#333333" stroke-width="0.8" />
<line x1="562.7" y1="1108.8" x2="562.7" y2="1111.2" stroke="#333333" stroke-width="0.9" />
<text x="562.7" y="1121.6" font-family='"Liberation Sans", sans-serif' font-size="10" font-weight="normal" fill="#1a1a1a" text-anchor="middle" stroke="#1a1a1a" stroke-width="0.2" >18</text>
<line x1="573.5" y1="1108.8" x2="573.5" y2="1110.0" stroke="#333333" stroke-width="0.8" />
<line x1="584.3" y1="1108.8" x2="584.3" y2="1111.2" stroke="#333333" stroke-width="0.9" />
<text x="584.3" y="1121.6" font-family='"Liberation Sans", sans-serif' font-size="10" font-weight="normal" fill="#1a1a1a" text-anchor="middle" stroke="#1a1a1a" stroke-width="0.2" >19</text>
<line x1="595.2" y1="1108.8" x2="595.2" y2="1110.0" stroke="#333333" stroke-width="0.8" />
<line x1="606.0" y1="1108.8" x2="606.0" y2="1111.2" stroke="#333333" stroke-width="0.9" />
<text x="606.0" y="1121.6" font-family='"Liberation Sans", sans-serif' font-size="10" font-weight="normal" fill="#1a1a1a" text-anchor="middle" stroke="#1a1a1a" stroke-width="0.2" >20</text>
<line x1="616.8" y1="1108.8" x2="616.8" y2="1110.0" stroke="#333333" stroke-width="0.8" />
<line x1="627.7" y1="1108.8" x2="627.7" y2="1111.2" stroke="#333333" stroke-width="0.9" />
<text x="627.7" y="1121.6" font-family='"Liberation Sans", sans-serif' font-size="10" font-weight="normal" fill="#1a1a1a" text-anchor="middle" stroke="#1a1a1a" stroke-width="0.2" >21</text>
<text x="337.6" y="1135.5" font-family='"Liberation Sans", sans-serif' font-size="12" font-weight="normal" fill="#1a1a1a" text-anchor="middle" stroke="#1a1a1a" stroke-width="0.2" >D1 Score</text>
<text x="11.0" y="861.0" font-family='"Liberation Sans", sans-serif' font-size="12" font-weight="normal" fill="#1a1a1a" text-anchor="middle" stroke="#1a1a1a" stroke-width="0.2" transform="rotate(-90 11.0 861.0)">D2 Score</text>
<line x1="159.2" y1="648.0" x2="159.2" y2="653.7" stroke="#555" stroke-width="0.8" />
<polygon points="147.80,608.60 143.90,616.20 151.70,616.20" fill="#808080"/>
<polygon points="176.80,637.20 172.65,644.70 180.95,644.70" fill="#808080"/>
<polygon points="159.00,640.60 155.00,648.10 163.00,648.10" fill="#808080"/>
<line x1="245.1" y1="799.0" x2="252.0" y2="799.0" stroke="#666" stroke-width="0.9" />
<polygon points="212.40,771.10 216.50,775.20 212.40,779.30 208.30,775.20" fill="#c873b8"/>
<polygon points="256.60,787.80 260.70,791.90 256.60,796.00 252.50,791.90" fill="#c873b8"/>
<polygon points="253.10,794.90 257.20,799.00 253.10,803.10 249.00,799.00" fill="#c873b8"/>
<line x1="310.1" y1="779.4" x2="310.1" y2="775.2" stroke="#555" stroke-width="0.8" />
<line x1="337.3" y1="794.1" x2="337.3" y2="789.9" stroke="#555" stroke-width="0.8" />
<rect x="295.65" y="781.85" width="8.50" height="8.50" fill="#f5a000"/>
<rect x="305.85" y="779.45" width="8.50" height="8.50" fill="#f5a000"/>
<rect x="333.05" y="794.15" width="8.50" height="8.50" fill="#f5a000"/>
<line x1="612.4" y1="858.0" x2="612.4" y2="862.8" stroke="#555" stroke-width="0.8" />
<circle cx="560.80" cy="845.00" r="3.20" fill="#2c1f86"/>
<circle cx="594.60" cy="852.50" r="3.20" fill="#2c1f86"/>
<circle cx="612.40" cy="866.30" r="3.20" fill="#2c1f86"/>
<rect x="52.90" y="958.00" width="8.20" height="8.20" fill="none" stroke="#eba030" stroke-width="1.1"/>
<rect x="71.70" y="946.70" width="8.20" height="8.20" fill="none" stroke="#eba030" stroke-width="1.1"/>
<rect x="91.80" y="958.00" width="8.20" height="8.20" fill="none" stroke="#eba030" stroke-width="1.1"/>
<line x1="57.0" y1="941.0" x2="57.0" y2="962.0" stroke="#666" stroke-width="0.8" />
<line x1="95.9" y1="953.8" x2="95.9" y2="962.2" stroke="#444" stroke-width="0.8" />
<circle cx="102.90" cy="1002.00" r="3.25" fill="none" stroke="#2c1f86" stroke-width="1.1"/>
<circle cx="114.00" cy="1008.20" r="3.25" fill="none" stroke="#2c1f86" stroke-width="1.1"/>
<line x1="114.0" y1="1008.2" x2="135.4" y2="1008.2" stroke="#333" stroke-width="0.8" />
<polygon points="78.50,1032.80 74.00,1041.60 83.00,1041.60" fill="none" stroke="#8a8a8a" stroke-width="0.9" stroke-linejoin="miter"/>
<polygon points="64.20,1043.30 59.50,1052.40 68.90,1052.40" fill="none" stroke="#8a8a8a" stroke-width="0.9" stroke-linejoin="miter"/>
<clipPath id="cb"><rect x="0" y="0" width="749" height="1070.0"/></clipPath>
<g clip-path="url(#cb)"><polygon points="125.5,1065.3 121,1074 130,1074" fill="none" stroke="#8a8a8a" stroke-width="0.9"/></g>
<line x1="70.4" y1="1099.4" x2="70.4" y2="1090.3" stroke="#444" stroke-width="0.8" />
<polygon points="70.40,1095.10 74.80,1099.50 70.40,1103.90 66.00,1099.50" fill="none" stroke="#cf3277" stroke-width="1.0"/>
<polygon points="80.20,1090.30 84.60,1094.70 80.20,1099.10 75.80,1094.70" fill="none" stroke="#cf3277" stroke-width="1.0"/>
<polygon points="95.30,1099.60 99.70,1104.00 95.30,1108.40 90.90,1104.00" fill="none" stroke="#cf3277" stroke-width="1.0"/>
<text x="96.3" y="609.0" font-family='"Liberation Sans", sans-serif' font-size="10.4" font-weight="normal" fill="#1a1a1a" text-anchor="start" textLength="99.95" lengthAdjust="spacingAndGlyphs" stroke="#1a1a1a" stroke-width="0.2" >RSV 1 1:100 (+) 30min</text>
<text x="125.7" y="637.6" font-family='"Liberation Sans", sans-serif' font-size="10.4" font-weight="normal" fill="#1a1a1a" text-anchor="start" textLength="99.95" lengthAdjust="spacingAndGlyphs" stroke="#1a1a1a" stroke-width="0.2" >RSV 2 1:100 (+) 30min</text>
<text x="107.5" y="662.3" font-family='"Liberation Sans", sans-serif' font-size="10.4" font-weight="normal" fill="#1a1a1a" text-anchor="start" textLength="99.95" lengthAdjust="spacingAndGlyphs" stroke="#1a1a1a" stroke-width="0.2" >RSV 3 1:100 (+) 30min</text>
<text x="144.4" y="772.0" font-family='"Liberation Sans", sans-serif' font-size="10.4" font-weight="normal" fill="#1a1a1a" text-anchor="start" textLength="132.17" lengthAdjust="spacingAndGlyphs" stroke="#1a1a1a" stroke-width="0.2" >RMT + RSV 3 1:100 (+) 30min</text>
<text x="189.0" y="789.0" font-family='"Liberation Sans", sans-serif' font-size="10.4" font-weight="normal" fill="#1a1a1a" text-anchor="start" textLength="98.32" lengthAdjust="spacingAndGlyphs" stroke="#1a1a1a" stroke-width="0.2" >BLK 2 1:100 (+) 30min</text>
<text x="106.3" y="801.3" font-family='"Liberation Sans", sans-serif' font-size="10.4" font-weight="normal" fill="#1a1a1a" text-anchor="start" textLength="132.17" lengthAdjust="spacingAndGlyphs" stroke="#1a1a1a" stroke-width="0.2" >RMT + RSV 1 1:100 (+) 30min</text>
<text x="308.5" y="771.6" font-family='"Liberation Sans", sans-serif' font-size="10.4" font-weight="normal" fill="#1a1a1a" text-anchor="start" textLength="98.32" lengthAdjust="spacingAndGlyphs" stroke="#1a1a1a" stroke-width="0.2" >BLK 1 1:100 (+) 30min</text>
<text x="335.3" y="786.6" font-family='"Liberation Sans", sans-serif' font-size="10.4" font-weight="normal" fill="#1a1a1a" text-anchor="start" textLength="98.32" lengthAdjust="spacingAndGlyphs" stroke="#1a1a1a" stroke-width="0.2" >BLK 3 1:100 (+) 30min</text>
<text x="509.5" y="855.0" font-family='"Liberation Sans", sans-serif' font-size="10.4" font-weight="normal" fill="#1a1a1a" text-anchor="start" textLength="100.85" lengthAdjust="spacingAndGlyphs" stroke="#1a1a1a" stroke-width="0.2" >RMT 1 1:100 (+) 30min</text>
<text x="55.6" y="937.2" font-family='"Liberation Sans", sans-serif' font-size="10.4" font-weight="normal" fill="#1a1a1a" text-anchor="start" textLength="103.77" lengthAdjust="spacingAndGlyphs" stroke="#1a1a1a" stroke-width="0.2" >BLK 1 1:100 (+) 120min</text>
<text x="94.6" y="950.6" font-family='"Liberation Sans", sans-serif' font-size="10.4" font-weight="normal" fill="#1a1a1a" text-anchor="start" textLength="103.77" lengthAdjust="spacingAndGlyphs" stroke="#1a1a1a" stroke-width="0.2" >BLK 3 1:100 (+) 120min</text>
<text x="78.3" y="994.8" font-family='"Liberation Sans", sans-serif' font-size="10.4" font-weight="normal" fill="#1a1a1a" text-anchor="start" textLength="106.30" lengthAdjust="spacingAndGlyphs" stroke="#1a1a1a" stroke-width="0.2" >RMT 2 1:100 (+) 120min</text>
<text x="138.6" y="1010.0" font-family='"Liberation Sans", sans-serif' font-size="10.4" font-weight="normal" fill="#1a1a1a" text-anchor="start" textLength="106.30" lengthAdjust="spacingAndGlyphs" stroke="#1a1a1a" stroke-width="0.2" >RMT 1 1:100 (+) 120min</text>
<text x="86.8" y="1043.7" font-family='"Liberation Sans", sans-serif' font-size="10.4" font-weight="normal" fill="#1a1a1a" text-anchor="start" textLength="105.40" lengthAdjust="spacingAndGlyphs" stroke="#1a1a1a" stroke-width="0.2" >RSV 1 1:100 (+) 120min</text>
<text x="73.6" y="1059.0" font-family='"Liberation Sans", sans-serif' font-size="10.4" font-weight="normal" fill="#1a1a1a" text-anchor="start" textLength="105.40" lengthAdjust="spacingAndGlyphs" stroke="#1a1a1a" stroke-width="0.2" >RSV 3 1:100 (+) 120min</text>
<text x="69.6" y="1086.6" font-family='"Liberation Sans", sans-serif' font-size="10.4" font-weight="normal" fill="#1a1a1a" text-anchor="start" textLength="137.62" lengthAdjust="spacingAndGlyphs" stroke="#1a1a1a" stroke-width="0.2" >RMT + RSV 3 1:100 (+) 120min</text>
<text x="84.6" y="1098.8" font-family='"Liberation Sans", sans-serif' font-size="10.4" font-weight="normal" fill="#1a1a1a" text-anchor="start" textLength="137.62" lengthAdjust="spacingAndGlyphs" stroke="#1a1a1a" stroke-width="0.2" >RMT + RSV 2 1:100 (+) 120min</text>
<text x="252.2" y="632.4" font-family='"Liberation Serif", serif' font-size="12.5" font-weight="bold" fill="#828282" text-anchor="start" textLength="73.11" lengthAdjust="spacingAndGlyphs" >BLK B 30 min</text>
<text x="142.7" y="736.1" font-family='"Liberation Serif", serif' font-size="12.5" font-weight="bold" fill="#b874b2" text-anchor="start" textLength="103.87" lengthAdjust="spacingAndGlyphs" >RMT + RSV  30 min</text>
<text x="355.5" y="733.3" font-family='"Liberation Serif", serif' font-size="12.5" font-weight="bold" fill="#e8821e" text-anchor="start" textLength="72.46" lengthAdjust="spacingAndGlyphs" >BLK A 30 min</text>
<text x="532.9" y="817.2" font-family='"Liberation Serif", serif' font-size="12.5" font-weight="bold" fill="#2e2583" text-anchor="start" textLength="64.69" lengthAdjust="spacingAndGlyphs" >RMT 30 min</text>
<text x="214.2" y="949.9" font-family='"Liberation Serif", serif' font-size="12.5" font-weight="bold" fill="#e8821e" text-anchor="start" textLength="78.36" lengthAdjust="spacingAndGlyphs" >BLK A 120 min</text>
<text x="268.3" y="1000.3" font-family='"Liberation Serif", serif' font-size="12.5" font-weight="bold" fill="#2e2583" text-anchor="start" textLength="70.59" lengthAdjust="spacingAndGlyphs" >RMT 120 min</text>
<text x="231.0" y="1049.6" font-family='"Liberation Serif", serif' font-size="12.5" font-weight="bold" fill="#828282" text-anchor="start" textLength="79.01" lengthAdjust="spacingAndGlyphs" >BLK B 120 min</text>
<text x="244.0" y="1093.9" font-family='"Liberation Serif", serif' font-size="12.5" font-weight="bold" fill="#cf3277" text-anchor="start" textLength="109.77" lengthAdjust="spacingAndGlyphs" >RMT + RSV  120 min</text>
<rect x="617.5" y="589.3" width="85.9" height="105.3" fill="#fff" stroke="#333" stroke-width="1"/>
<rect x="621.80" y="593.10" width="8.60" height="8.60" fill="#f5a000"/>
<text x="634.6" y="601.0" font-family='"Liberation Sans", sans-serif' font-size="10.4" font-weight="normal" fill="#1a1a1a" text-anchor="start" textLength="32.15" lengthAdjust="spacingAndGlyphs" stroke="#1a1a1a" stroke-width="0.2" >BLK 30</text>
<rect x="622.30" y="606.55" width="7.60" height="7.60" fill="none" stroke="#eba030" stroke-width="1.0"/>
<text x="634.6" y="614.0" font-family='"Liberation Sans", sans-serif' font-size="10.4" font-weight="normal" fill="#1a1a1a" text-anchor="start" textLength="37.60" lengthAdjust="spacingAndGlyphs" stroke="#1a1a1a" stroke-width="0.2" >BLK 120</text>
<polygon points="626.10,619.10 621.80,627.40 630.40,627.40" fill="#808080"/>
<text x="634.6" y="626.9" font-family='"Liberation Sans", sans-serif' font-size="10.4" font-weight="normal" fill="#1a1a1a" text-anchor="start" textLength="33.77" lengthAdjust="spacingAndGlyphs" stroke="#1a1a1a" stroke-width="0.2" >RES 30</text>
<polygon points="626.10,632.05 621.80,640.35 630.40,640.35" fill="none" stroke="#8a8a8a" stroke-width="0.9" stroke-linejoin="miter"/>
<text x="634.6" y="639.9" font-family='"Liberation Sans", sans-serif' font-size="10.4" font-weight="normal" fill="#1a1a1a" text-anchor="start" textLength="39.22" lengthAdjust="spacingAndGlyphs" stroke="#1a1a1a" stroke-width="0.2" >RES 120</text>
<circle cx="626.10" cy="649.20" r="3.65" fill="#2c1f86"/>
<text x="634.6" y="652.8" font-family='"Liberation Sans", sans-serif' font-size="10.4" font-weight="normal" fill="#1a1a1a" text-anchor="start" textLength="31.59" lengthAdjust="spacingAndGlyphs" stroke="#1a1a1a" stroke-width="0.2" >RIM 30</text>
<circle cx="626.10" cy="662.15" r="3.20" fill="none" stroke="#2c1f86" stroke-width="1.0"/>
<text x="634.6" y="665.8" font-family='"Liberation Sans", sans-serif' font-size="10.4" font-weight="normal" fill="#1a1a1a" text-anchor="start" textLength="37.03" lengthAdjust="spacingAndGlyphs" stroke="#1a1a1a" stroke-width="0.2" >RIM 120</text>
<polygon points="626.10,670.70 630.50,675.10 626.10,679.50 621.70,675.10" fill="#c873b8"/>
<text x="634.6" y="678.7" font-family='"Liberation Sans", sans-serif' font-size="10.4" font-weight="normal" fill="#1a1a1a" text-anchor="start" textLength="57.46" lengthAdjust="spacingAndGlyphs" stroke="#1a1a1a" stroke-width="0.2" >RIM+RES 30</text>
<polygon points="626.10,683.55 630.60,688.05 626.10,692.55 621.60,688.05" fill="none" stroke="#cf3277" stroke-width="1.0"/>
<text x="634.6" y="691.6" font-family='"Liberation Sans", sans-serif' font-size="10.4" font-weight="normal" fill="#1a1a1a" text-anchor="start" textLength="62.91" lengthAdjust="spacingAndGlyphs" stroke="#1a1a1a" stroke-width="0.2" >RIM+RES 120</text>
</svg></body></html>
